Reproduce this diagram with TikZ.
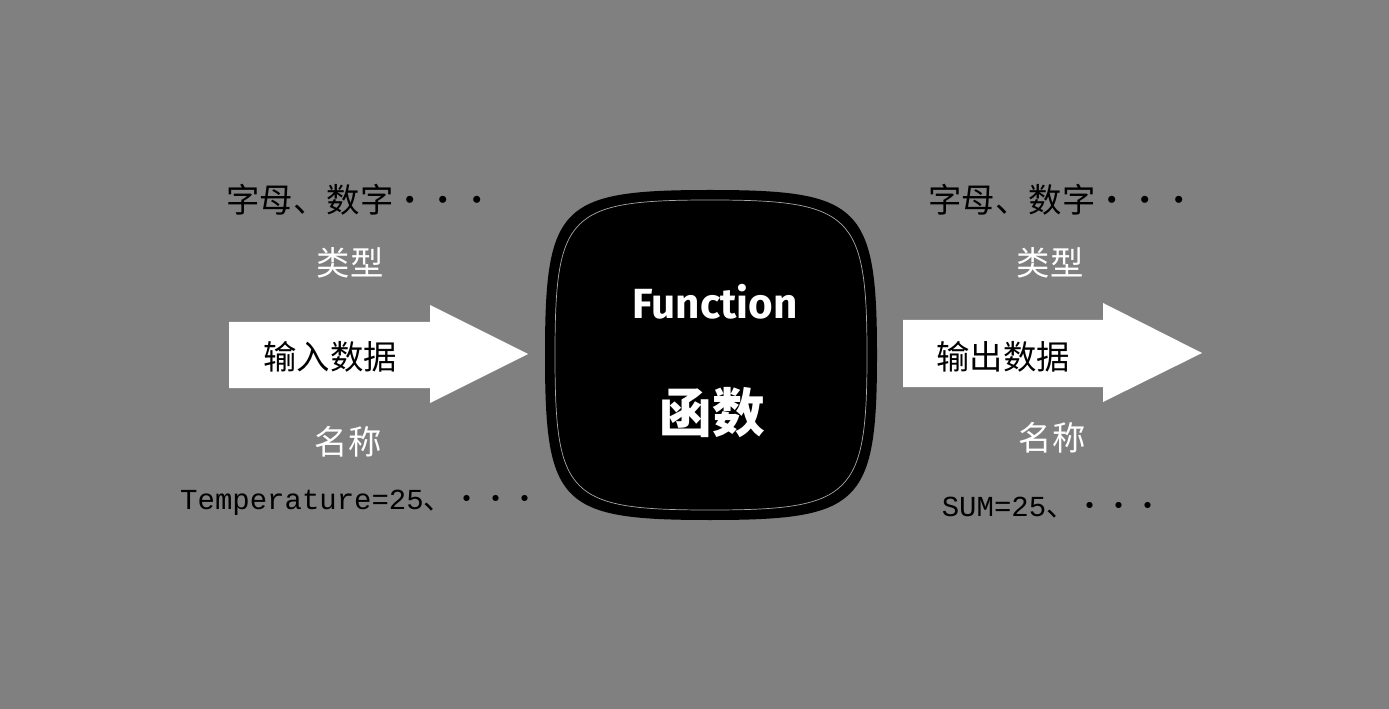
\documentclass[tikz,border=0pt]{standalone}
\usepackage{fontspec}
\setmonofont{Liberation Mono}
\newfontfamily\cjk{Noto Sans CJK SC}
\newfontfamily\fnfont{Fira Sans}
\usetikzlibrary{positioning}

\tikzset{
  lbl/.style={font=\cjk\fontsize{19}{22}\selectfont, text=black},
  wlbl/.style={font=\cjk\fontsize{19}{22}\selectfont, text=white},
  vals/.style={font=\ttfamily\fontsize{16.5}{20}\selectfont, text=black},
}

\begin{document}
\begin{tikzpicture}[x=0.02cm,y=-0.02cm]
    \fill[gray!100,fill={rgb,255:red,128;green,128;blue,128}] (0,0) rectangle (1389,709);

    % function blob
    \fill[black] (710,190) .. controls (860,190) and (877,205) .. (877,355)
        .. controls (877,505) and (860,520) .. (710,520)
        .. controls (560,520) and (545,505) .. (545,355)
        .. controls (545,205) and (560,190) .. (710,190) -- cycle;
    \draw[gray!70,thin] (710,200) .. controls (852,200) and (867,214) .. (867,355)
        .. controls (867,496) and (852,510) .. (710,510)
        .. controls (568,510) and (555,496) .. (555,355)
        .. controls (555,214) and (568,200) .. (710,200) -- cycle;
    \node[text=white, font=\fnfont\bfseries\fontsize{24}{28}\selectfont] (fn) at (715,302) {Function};
    \node[text=white, font=\cjk\bfseries\fontsize{30}{34}\selectfont] (hs) at (712,413) {函数};

    % input side
    \fill[white] (229,322) -- (430,322) -- (430,305) -- (528,354) -- (430,403) -- (430,388) -- (229,388) -- cycle;
    \node[lbl] (in) at (330,357) {输入数据};
    \node[lbl] (inch) at (360,200) {字母、数字・・・};
    \node[wlbl] (intp) at (350,263) {类型};
    \node[wlbl] (innm) at (348,442) {名称};
    \node[vals] (inval) at (360,503) {Temperature=25{\cjk 、・・・}};

    % output side
    \fill[white] (903,320) -- (1103,320) -- (1103,303) -- (1202,353) -- (1103,402) -- (1103,387) -- (903,387) -- cycle;
    \node[lbl] (out) at (1003,357) {输出数据};
    \node[lbl] (outch) at (1062,200) {字母、数字・・・};
    \node[wlbl] (outtp) at (1050,263) {类型};
    \node[wlbl] (outnm) at (1052,438) {名称};
    \node[vals] (outval) at (1052,508) {SUM=25{\cjk 、・・・}};
\end{tikzpicture}
\end{document}
